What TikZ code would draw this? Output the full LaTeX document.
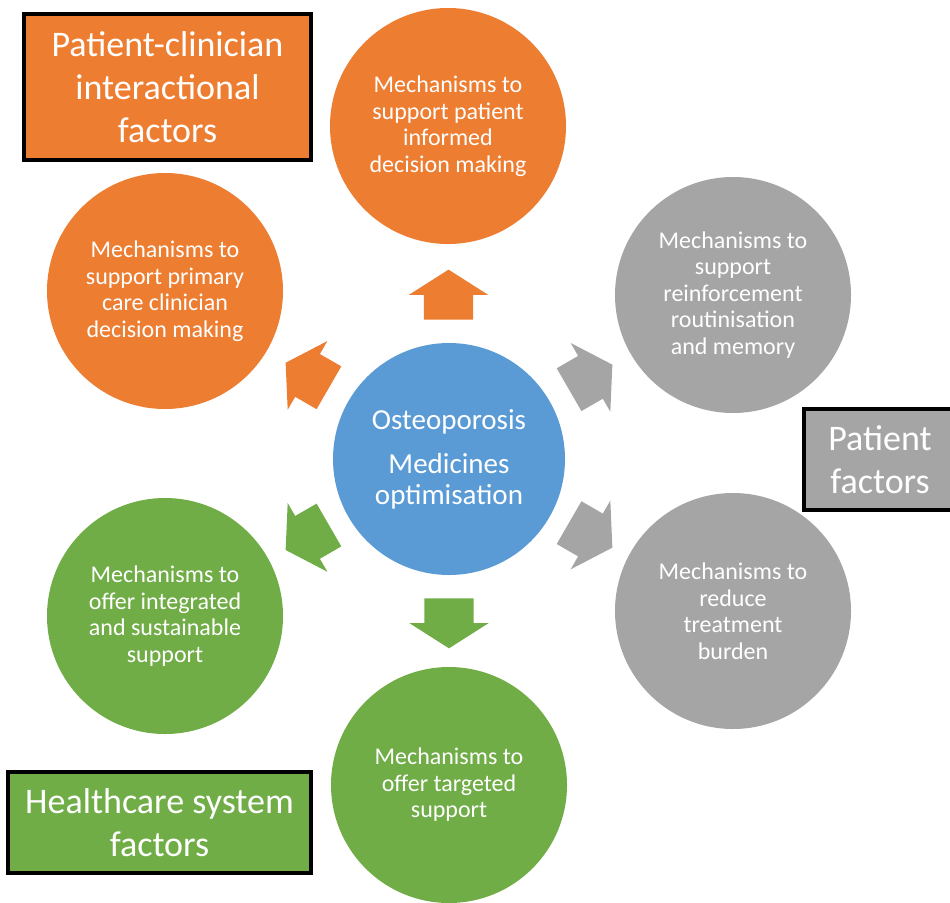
\documentclass[tikz,border=0pt]{standalone}
\usepackage{fontspec}
\setmainfont{Carlito}
\usetikzlibrary{shapes.arrows,calc}
\definecolor{orng}{HTML}{ED7D31}
\definecolor{gry}{HTML}{A5A5A5}
\definecolor{grn}{HTML}{70AD47}
\definecolor{blu}{HTML}{5B9BD5}
\begin{document}
\begin{tikzpicture}[x=1pt,y=-1pt,
   mech/.style={circle,minimum size=236pt,inner sep=0pt,text=white,align=center,
     font=\fontsize{24}{26.5}\selectfont},
   hub/.style={circle,minimum size=232pt,inner sep=0pt,fill=blu,text=white,align=center,
     font=\fontsize{29}{31}\selectfont},
   factor/.style={draw=black,line width=4pt,inner sep=0pt,text=white,align=center,
     font=\fontsize{36}{43}\selectfont},
   blk/.style={single arrow,inner xsep=0pt,inner ysep=24.5pt,minimum height=50pt,
     single arrow head extend=15pt,single arrow tip angle=115}]
   \path[use as bounding box,fill=white] (0,0) rectangle (950,902);
   \node[hub] (hub) at (449,459) {Osteoporosis\\[13pt]Medicines\\optimisation};
   \node[mech,fill=orng] (top) at (448,126)
     {Mechanisms to\\support patient\\informed\\decision making};
   \node[mech,fill=gry] (ur) at (733,295)
     {Mechanisms to\\support\\reinforcement\\routinisation\\and memory};
   \node[mech,fill=gry] (lr) at (733,611)
     {Mechanisms to\\reduce\\treatment\\burden};
   \node[mech,fill=grn] (bot) at (449,785)
     {Mechanisms to\\offer targeted\\support};
   \node[mech,fill=grn] (ll) at (165,616)
     {Mechanisms to\\offer integrated\\and sustainable\\support};
   \node[mech,fill=orng] (ul) at (165,291)
     {Mechanisms to\\support primary\\care clinician\\decision making};
   % block arrows out of the hub
   \node[blk,fill=orng,rotate=90] (a-top) at ($(hub)!0.47!(top)$) {};
   \node[blk,fill=gry,rotate=30] (a-ur) at ($(hub)!0.475!(ur)$) {};
   \node[blk,fill=gry,rotate=-30] (a-lr) at ($(hub)!0.475!(lr)$) {};
   \node[blk,fill=grn,rotate=-90] (a-bot) at ($(hub)!0.48!(bot)$) {};
   \node[blk,fill=grn,rotate=-150] (a-ll) at ($(hub)!0.475!(ll)$) {};
   \node[blk,fill=orng,rotate=150] (a-ul) at ($(hub)!0.475!(ul)$) {};
   % factor boxes
   \node[factor,fill=orng,minimum width=287pt,minimum height=146pt] (pci) at (167.5,87)
     {Patient-clinician\\interactional\\factors};
   \node[factor,fill=gry,minimum width=152pt,minimum height=101pt] (pf) at (880,459.5)
     {Patient\\factors};
   \node[factor,fill=grn,minimum width=303pt,minimum height=101pt] (hsf) at (159.5,822.5)
     {Healthcare system\\factors};
\end{tikzpicture}
\end{document}
